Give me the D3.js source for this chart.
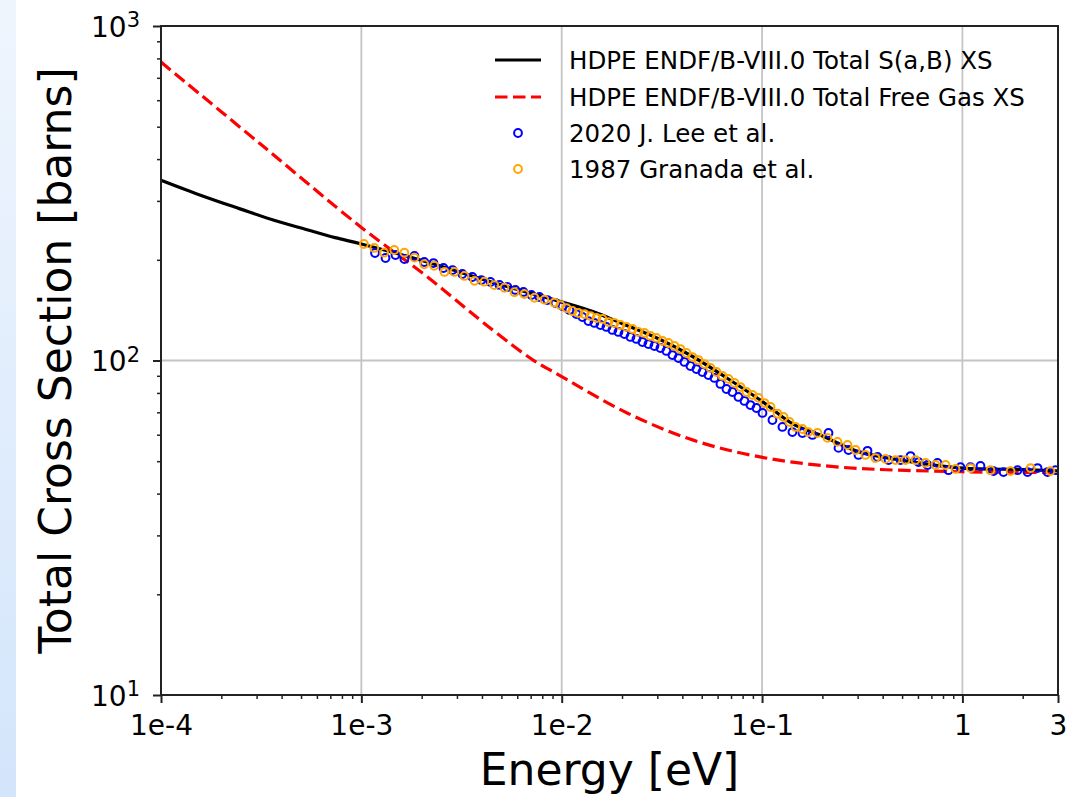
<!DOCTYPE html>
<html>
<head>
<meta charset="utf-8">
<script src="https://cdn.jsdelivr.net/npm/d3@7"></script>
<style>
  html, body { margin: 0; padding: 0; background: #ffffff; }
  svg { display: block; }
  text { font-family: "DejaVu Sans", sans-serif; fill: #000; }
</style>
</head>
<body>
<svg id="chart" width="1074" height="797"></svg>
<script>
// ---------------- data ----------------
const xTickValues = [1e-4, 1e-3, 1e-2, 1e-1, 1, 3];
const xTickLabels = ["1e-4", "1e-3", "1e-2", "1e-1", "1", "3"];
const yTickValues = [10, 100, 1000];
const yTickExponents = ["1", "2", "3"];

const seriesNames = [
  "HDPE ENDF/B-VIII.0 Total S(a,B) XS",
  "HDPE ENDF/B-VIII.0 Total Free Gas XS",
  "2020 J. Lee et al.",
  "1987 Granada et al."
];

// ENDF/B-VIII.0 S(a,B) total XS
const energySab = [1e-4, 1.6e-4, 2.48e-4, 3.7e-4, 5.36e-4, 7.4e-4, 1e-3, 2.13e-3, 4.55e-3, 9.85e-3, 1.43e-2, 2.0e-2, 3.1e-2, 4.5e-2, 6.7e-2, 0.1, 0.143, 0.2, 0.3, 0.5, 1, 2, 3];
const sigmaSab  = [346, 311, 284, 262, 246, 233, 223, 197, 171, 150, 140, 129, 115.5, 102.8, 88.5, 75.5, 64.5, 59.5, 53.5, 50.3, 47.7, 47.2, 46.8];

// ENDF/B-VIII.0 free gas total XS
const energyFree = [1e-4, 3.16e-4, 1e-3, 2.13e-3, 4.55e-3, 7.2e-3, 9.85e-3, 2.12e-2, 4.53e-2, 9.77e-2, 0.244, 1, 3];
const sigmaFree  = [780, 442, 250, 178, 123, 100.3, 90, 69.7, 57.8, 51.5, 48.0, 46.5, 46.3];

// 2020 J. Lee et al.
const energyLee = [1.17e-3, 1.32e-3, 1.48e-3, 1.64e-3, 1.84e-3, 2.06e-3, 2.29e-3, 2.57e-3, 2.85e-3, 3.19e-3,
  3.58e-3, 3.97e-3, 4.41e-3, 4.89e-3, 5.36e-3, 5.87e-3, 6.44e-3, 7.06e-3, 7.74e-3, 8.48e-3,
  9.30e-3, 1.008e-2, 1.092e-2, 1.184e-2, 1.269e-2, 1.359e-2, 1.456e-2, 1.561e-2, 1.672e-2, 1.791e-2,
  1.919e-2, 2.056e-2, 2.203e-2, 2.360e-2, 2.529e-2, 2.709e-2, 2.903e-2, 3.110e-2, 3.332e-2, 3.570e-2,
  3.825e-2, 4.098e-2, 4.391e-2, 4.704e-2, 5.040e-2, 5.400e-2, 5.785e-2, 6.199e-2, 6.642e-2, 7.116e-2,
  7.624e-2, 8.168e-2, 8.752e-2, 9.376e-2, 0.1005, 0.1127, 0.1264, 0.1418, 0.1591, 0.1785,
  0.2146, 0.2407, 0.270, 0.303, 0.336, 0.377, 0.428, 0.491, 0.551, 0.604,
  0.670, 0.751, 0.852, 0.978, 1.097, 1.231, 1.430, 1.604, 1.884, 2.114,
  2.371, 2.660, 2.917];
const sigmaLee = [209.6, 202.5, 206.7, 201.1, 205.3, 197.0, 195.6, 189.0, 186.4, 181.4,
  177.7, 174.0, 171.7, 168.2, 165.9, 162.5, 160.3, 157.0, 154.8, 151.6,
  148.6, 145.5, 141.6, 137.7, 134.9, 131.2, 129.5, 127.7, 126.0, 123.4,
  121.7, 120.0, 117.6, 116.0, 113.6, 112.0, 110.5, 109.0, 106.8, 103.8,
  101.7, 99.0, 96.3, 94.3, 92.4, 90.5, 88.7, 85.1, 82.2, 80.5,
  77.8, 75.7, 73.6, 72.1, 69.7, 66.4, 63.3, 61.1, 60.7, 59.9,
  60.7, 54.8, 54.0, 52.2, 53.7, 51.5, 50.4, 50.4, 51.8, 49.7,
  48.7, 49.4, 47.0, 48.0, 48.0, 48.4, 46.7, 46.4, 47.0, 46.4,
  47.7, 46.4, 47.0];

// 1987 Granada et al.
const energyGranada = [1.03e-3, 1.16e-3, 1.30e-3, 1.46e-3, 1.64e-3, 1.84e-3, 2.06e-3, 2.31e-3, 2.60e-3, 2.91e-3,
  3.27e-3, 3.67e-3, 4.11e-3, 4.61e-3, 5.18e-3, 5.81e-3, 6.51e-3, 7.31e-3, 8.20e-3, 9.19e-3,
  9.85e-3, 1.056e-2, 1.131e-2, 1.212e-2, 1.299e-2, 1.392e-2, 1.491e-2, 1.597e-2, 1.711e-2, 1.834e-2,
  1.965e-2, 2.105e-2, 2.255e-2, 2.416e-2, 2.589e-2, 2.774e-2, 2.972e-2, 3.184e-2, 3.411e-2, 3.655e-2,
  3.916e-2, 4.195e-2, 4.495e-2, 4.816e-2, 5.160e-2, 5.528e-2, 5.923e-2, 6.346e-2, 6.799e-2, 7.284e-2,
  7.804e-2, 8.362e-2, 8.959e-2, 9.599e-2, 0.1028, 0.1102, 0.1194, 0.128, 0.137, 0.147,
  0.159, 0.170, 0.189, 0.212, 0.238, 0.267, 0.293, 0.328, 0.368, 0.413,
  0.464, 0.520, 0.583, 0.654, 0.734, 0.824, 0.924, 1.10, 1.38, 1.74,
  2.19, 2.75];
const sigmaGranada = [223, 217, 210, 214, 210, 203, 194, 192, 184, 184,
  179, 173, 172, 168, 165, 160, 158, 154, 152, 149,
  146.5, 143.5, 140.6, 138.7, 137.7, 135.8, 134.0, 133.1, 130.3, 129.5,
  127.7, 126.0, 124.2, 121.7, 120.9, 118.4, 116.8, 114.4, 112.8, 110.5,
  108.2, 105.3, 102.4, 100.3, 97.6, 95.0, 92.4, 89.9, 88.1, 85.7,
  83.3, 80.5, 78.9, 77.3, 74.6, 72.6, 69.3, 67.8, 65.5, 63.3,
  62.4, 61.1, 60.7, 58.7, 57.1, 55.9, 54.0, 52.2, 51.1, 50.8,
  50.4, 50.4, 50.4, 49.4, 48.7, 48.7, 47.4, 47.7, 47.0, 46.7,
  47.7, 46.7];

// ---------------- drawing ----------------
const svg = d3.select("#chart");
const W = 1074, H = 797;
const L = 161, R = 1058, T = 26, B = 695;

// left gradient strip
const defs = svg.append("defs");
const grad = defs.append("linearGradient").attr("id", "strip").attr("x1", 0).attr("y1", 0).attr("x2", 0).attr("y2", 1);
grad.append("stop").attr("offset", "0%").attr("stop-color", "#eff5fd");
grad.append("stop").attr("offset", "100%").attr("stop-color", "#d3e5fb");
svg.append("rect").attr("x", 0).attr("y", 0).attr("width", 16).attr("height", H).attr("fill", "url(#strip)");

const x = d3.scaleLog().domain([1e-4, 3]).range([L, R]);
const y = d3.scaleLog().domain([10, 1000]).range([B, T]);

// grid
const gridX = [1e-4, 1e-3, 1e-2, 1e-1, 1];
svg.append("g").selectAll("line").data(gridX).join("line")
  .attr("x1", d => x(d)).attr("x2", d => x(d)).attr("y1", T).attr("y2", B)
  .attr("stroke", "#c4c4c4").attr("stroke-width", 1.8);
svg.append("g").selectAll("line").data(yTickValues).join("line")
  .attr("x1", L).attr("x2", R).attr("y1", d => y(d)).attr("y2", d => y(d))
  .attr("stroke", "#c4c4c4").attr("stroke-width", 1.8);

// clip
defs.append("clipPath").attr("id", "plotclip").append("rect")
  .attr("x", L).attr("y", T).attr("width", R - L).attr("height", B - T);

const plot = svg.append("g").attr("clip-path", "url(#plotclip)");

const line = d3.line().x(d => x(d[0])).y(d => y(d[1])).curve(d3.curveCatmullRom.alpha(0.5));

plot.append("path")
  .datum(energyFree.map((e, i) => [e, sigmaFree[i]]))
  .attr("d", line).attr("fill", "none")
  .attr("stroke", "#ff0000").attr("stroke-width", 3.2).attr("stroke-dasharray", "12.5,5.5");

plot.append("path")
  .datum(energySab.map((e, i) => [e, sigmaSab[i]]))
  .attr("d", line).attr("fill", "none")
  .attr("stroke", "#000000").attr("stroke-width", 3.2);

plot.append("g").selectAll("circle")
  .data(energyLee.map((e, i) => [e, sigmaLee[i]])).join("circle")
  .attr("cx", d => x(d[0])).attr("cy", d => y(d[1])).attr("r", 3.9)
  .attr("fill", "none").attr("stroke", "#0000ff").attr("stroke-width", 2);

plot.append("g").selectAll("circle")
  .data(energyGranada.map((e, i) => [e, sigmaGranada[i]])).join("circle")
  .attr("cx", d => x(d[0])).attr("cy", d => y(d[1])).attr("r", 3.9)
  .attr("fill", "none").attr("stroke", "#ffa500").attr("stroke-width", 2);

// frame
svg.append("rect").attr("x", L).attr("y", T).attr("width", R - L).attr("height", B - T)
  .attr("fill", "none").attr("stroke", "#222").attr("stroke-width", 2);

// x axis major
const xMinor = [];
[1e-4, 1e-3, 1e-2, 1e-1].forEach(dec => { for (let k = 2; k <= 9; k++) xMinor.push(k * dec); });
xMinor.push(2);

const xAxisMajor = d3.axisBottom(x).tickValues(xTickValues)
  .tickFormat((d, i) => xTickLabels[i]).tickSize(8).tickPadding(12);
const gx = svg.append("g").attr("transform", `translate(0,${B})`).call(xAxisMajor);
gx.select(".domain").remove();
gx.selectAll(".tick line").attr("stroke", "#222").attr("stroke-width", 2);
gx.selectAll(".tick text").attr("font-size", 28).attr("font-family", "DejaVu Sans").attr("fill", "#000");

const gxm = svg.append("g").attr("transform", `translate(0,${B})`)
  .call(d3.axisBottom(x).tickValues(xMinor).tickSize(4).tickFormat(""));
gxm.select(".domain").remove();
gxm.selectAll(".tick line").attr("stroke", "#222").attr("stroke-width", 1.5);

// y axis
const yMinor = [];
[10, 100].forEach(dec => { for (let k = 2; k <= 9; k++) yMinor.push(k * dec); });

const gy = svg.append("g").attr("transform", `translate(${L},0)`)
  .call(d3.axisLeft(y).tickValues(yTickValues).tickSize(8).tickPadding(13).tickFormat(""));
gy.select(".domain").remove();
gy.selectAll(".tick line").attr("stroke", "#222").attr("stroke-width", 2);
gy.selectAll(".tick").each(function(d, i) {
  const t = d3.select(this).append("text")
    .attr("x", -21).attr("dy", "0.36em").attr("text-anchor", "end")
    .attr("font-size", 28).attr("font-family", "DejaVu Sans").attr("fill", "#000");
  t.append("tspan").text("10");
  t.append("tspan").attr("font-size", 21).attr("dy", "-0.45em").text(yTickExponents[i]);
});

const gym = svg.append("g").attr("transform", `translate(${L},0)`)
  .call(d3.axisLeft(y).tickValues(yMinor).tickSize(4).tickFormat(""));
gym.select(".domain").remove();
gym.selectAll(".tick line").attr("stroke", "#222").attr("stroke-width", 1.5);

// axis labels
svg.append("text").attr("x", (L + R) / 2).attr("y", 785).attr("text-anchor", "middle")
  .attr("font-size", 44).text("Energy [eV]");
svg.append("text").attr("transform", `translate(71,${(T + B) / 2}) rotate(-90)`)
  .attr("text-anchor", "middle").attr("font-size", 44).text("Total Cross Section [barns]");

// legend
const legY = [60, 97, 133, 169];
const leg = svg.append("g");
leg.append("line").attr("x1", 495).attr("x2", 541).attr("y1", legY[0]).attr("y2", legY[0])
  .attr("stroke", "#000").attr("stroke-width", 3.2);
leg.append("line").attr("x1", 495).attr("x2", 541).attr("y1", legY[1]).attr("y2", legY[1])
  .attr("stroke", "#ff0000").attr("stroke-width", 3.2).attr("stroke-dasharray", "12.5,5.5");
leg.append("circle").attr("cx", 518).attr("cy", legY[2]).attr("r", 3.9)
  .attr("fill", "none").attr("stroke", "#0000ff").attr("stroke-width", 2);
leg.append("circle").attr("cx", 518).attr("cy", legY[3]).attr("r", 3.9)
  .attr("fill", "none").attr("stroke", "#ffa500").attr("stroke-width", 2);
leg.selectAll("text").data(seriesNames).join("text")
  .attr("x", 569).attr("y", (d, i) => legY[i]).attr("dy", "0.36em")
  .attr("font-size", 24.5).text(d => d);
</script>
</body>
</html>
